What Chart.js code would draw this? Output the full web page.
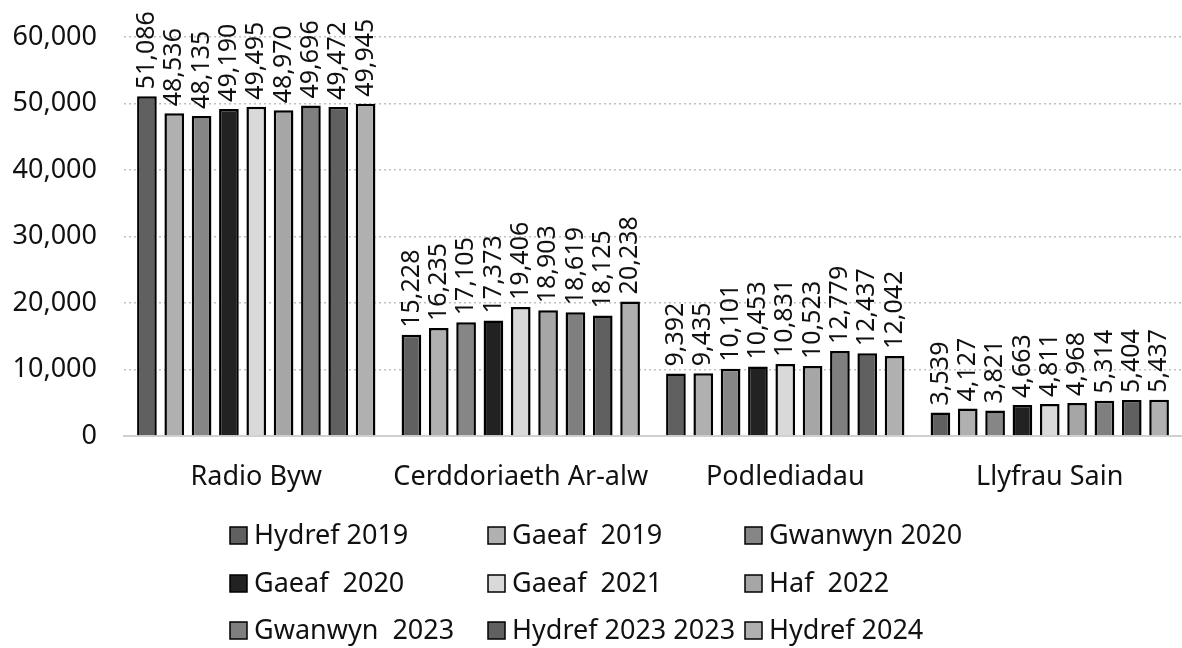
<!DOCTYPE html>
<html>
<head>
<meta charset="utf-8">
<script src="https://cdn.jsdelivr.net/npm/chart.js@4"></script>
<style>
  html, body { margin: 0; padding: 0; background: #fff; }
  #wrap { width: 1182px; height: 648px; }
</style>
</head>
<body>
<div id="wrap"><canvas id="chart" width="1182" height="648"></canvas></div>
<script>
const categories = ['Radio Byw', 'Cerddoriaeth Ar-alw', 'Podlediadau', 'Llyfrau Sain'];

const seriesNames = ['Hydref 2019', 'Gaeaf  2019', 'Gwanwyn 2020', 'Gaeaf  2020', 'Gaeaf  2021',
  'Haf  2022', 'Gwanwyn  2023', 'Hydref 2023 2023', 'Hydref 2024'];

const hydref2019 = [51086, 15228, 9392, 3539];
const gaeaf2019 = [48536, 16235, 9435, 4127];
const gwanwyn2020 = [48135, 17105, 10101, 3821];
const gaeaf2020 = [49190, 17373, 10453, 4663];
const gaeaf2021 = [49495, 19406, 10831, 4811];
const haf2022 = [48970, 18903, 10523, 4968];
const gwanwyn2023 = [49696, 18619, 12779, 5314];
const hydref2023 = [49472, 18125, 12437, 5404];
const hydref2024 = [49945, 20238, 12042, 5437];

const yTicks = [0, 10000, 20000, 30000, 40000, 50000, 60000];

const seriesValues = [hydref2019, gaeaf2019, gwanwyn2020, gaeaf2020, gaeaf2021,
  haf2022, gwanwyn2023, hydref2023, hydref2024];
const colors = ['#606060', '#b0b0b0', '#868686', '#222222', '#d9d9d9',
  '#a6a6a6', '#7f7f7f', '#606060', '#b0b0b0'];

const FONT = "'Noto Sans', sans-serif";
const fmt = v => v.toLocaleString('en-GB');

// rotated value labels above each bar
const valueLabels = {
  id: 'valueLabels',
  afterDatasetsDraw(chart) {
    const ctx = chart.ctx;
    ctx.save();
    ctx.font = '25px ' + FONT;
    ctx.fillStyle = '#111';
    ctx.textAlign = 'left';
    ctx.textBaseline = 'middle';
    chart.data.datasets.forEach((ds, i) => {
      chart.getDatasetMeta(i).data.forEach((bar, j) => {
        ctx.save();
        ctx.translate(bar.x, bar.y - 7);
        ctx.rotate(-Math.PI / 2);
        ctx.fillText(fmt(ds.data[j]), 0, 0);
        ctx.restore();
      });
    });
    ctx.restore();
  }
};

// legend laid out as a 3x3 grid below the axis
const gridLegend = {
  id: 'gridLegend',
  afterDraw(chart) {
    const ctx = chart.ctx;
    const colX = [230, 488, 745];
    const rowY = [535, 583, 630];
    ctx.save();
    ctx.font = '27px ' + FONT;
    ctx.textBaseline = 'middle';
    ctx.textAlign = 'left';
    chart.data.datasets.forEach((ds, i) => {
      const x = colX[i % 3], y = rowY[Math.floor(i / 3)];
      ctx.fillStyle = ds.backgroundColor;
      ctx.fillRect(x, y - 8, 17, 17);
      ctx.strokeStyle = '#000';
      ctx.lineWidth = 1.5;
      ctx.strokeRect(x, y - 8, 17, 17);
      ctx.fillStyle = '#111';
      ctx.fillText(ds.label, x + 24, y + 1);
    });
    ctx.restore();
  }
};

new Chart(document.getElementById('chart'), {
  type: 'bar',
  data: {
    labels: categories,
    datasets: seriesNames.map((name, i) => ({
      label: name,
      data: seriesValues[i],
      backgroundColor: colors[i],
      borderColor: '#000',
      borderWidth: 2.5,
      categoryPercentage: 0.93,
      barPercentage: 0.72
    }))
  },
  options: {
    responsive: false,
    animation: false,
    layout: { padding: { top: 37, right: 0, left: 0, bottom: 0 } },
    plugins: {
      legend: { display: false },
      tooltip: { enabled: false }
    },
    scales: {
      x: {
        grid: { display: false },
        border: { display: true, color: '#d0d0d0', width: 2 },
        ticks: { color: '#111', font: { family: FONT, size: 27 }, padding: 17, maxRotation: 0 },
        afterFit: s => { s.height = 212; }
      },
      y: {
        min: 0,
        max: 60000,
        afterBuildTicks: s => { s.ticks = yTicks.map(v => ({ value: v })); },
        grid: { color: '#c0c0c0', lineWidth: 1.5, drawTicks: true, tickLength: 25, tickColor: 'rgba(0,0,0,0)' },
        border: { display: false, dash: [2, 3] },
        ticks: { color: '#111', font: { family: FONT, size: 27 }, padding: 2, callback: v => fmt(v) },
        afterFit: s => { s.width = 124; }
      }
    }
  },
  plugins: [valueLabels, gridLegend]
});
</script>
</body>
</html>
